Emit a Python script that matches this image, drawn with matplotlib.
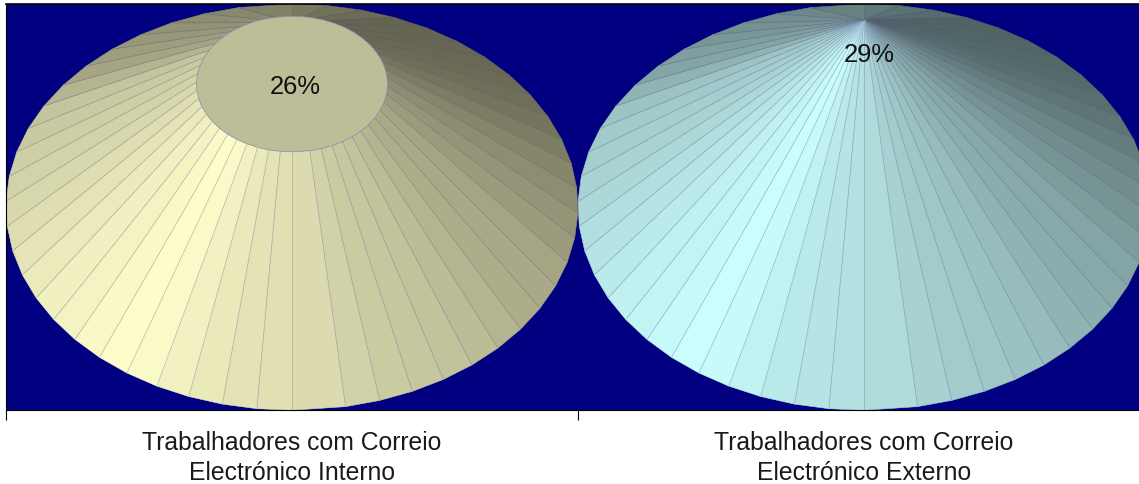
import numpy as np
import matplotlib
matplotlib.use("Agg")
import matplotlib.pyplot as plt
from matplotlib.collections import PolyCollection, LineCollection

plt.rcParams['font.family'] = ['Liberation Sans', 'DejaVu Sans']

categories = ["Trabalhadores com Correio\nElectrónico Interno",
              "Trabalhadores com Correio\nElectrónico Externo"]
values = [26, 29]
labels = ["26%", "29%"]

# shading of the facets, angle clockwise from the back of the cone
shade_angle = [0, 25, 50, 65, 80, 95, 110, 125, 140, 160, 175, 195, 216, 240, 270, 295, 310, 325, 340, 360]
shade_level = [0.49, 0.39, 0.41, 0.45, 0.52, 0.58, 0.65, 0.68, 0.75, 0.80, 0.86, 0.90, 1.00, 0.94, 0.84, 0.78, 0.65, 0.59, 0.55, 0.49]
base_colors = [(1.0, 1.0, 0.80), (0.80, 1.0, 1.0)]
ray_tint = np.array([0.32, 0.32, 0.58])

vmax = 29
base_v = 20.23
taper = 8.98
rx = 0.5
ry = 9.52

fig = plt.figure(figsize=(11.39, 4.84), dpi=100)
ax = fig.add_axes([6 / 1139, 74 / 484, 1133 / 1139, 406 / 484])
ax.set_facecolor("#000080")

# 25 facets a side, with a wider one next to the front and back seam
step = 7.05
half = np.arange(25) * step
theta = np.concatenate([half, 180 + half])
rad = np.radians(theta)
sx, cy = np.sin(rad), np.cos(rad)
nxt = np.roll(np.arange(len(theta)), -1)
mid = theta + (np.where(nxt == 0, 360, theta[nxt]) - theta) / 2

for i, v in enumerate(values):
    frac = (vmax - v) / taper
    bx, by = i + rx * sx, base_v + ry * cy
    # the sides run up to the apex at vmax
    tx, ty = i + rx * frac * sx, v + ry * frac * cy
    level = np.interp(mid, shade_angle, shade_level)
    colors = np.outer(level, base_colors[i])
    quads = [[(bx[k], by[k]), (bx[nxt[k]], by[nxt[k]]),
              (tx[nxt[k]], ty[nxt[k]]), (tx[k], ty[k])] for k in range(len(theta))]
    ax.add_collection(PolyCollection(quads, facecolors=colors, edgecolors=colors, linewidths=0.4))
    rays = [[(bx[k], by[k]), (tx[k], ty[k])] for k in range(len(theta))]
    ax.add_collection(LineCollection(rays, colors=0.65 * colors + 0.35 * ray_tint, linewidths=0.55))
    if frac > 0:
        ax.fill(tx, ty, facecolor=tuple(c * 0.74 for c in base_colors[i]),
                edgecolor="#8f93b5", linewidth=0.5)

ax.annotate(labels[0], (0, values[0]), xytext=(2, -2.2), textcoords="offset points",
            ha="center", va="center", fontsize=18.4, color="#111111")
ax.annotate(labels[1], (1, values[1]), xytext=(3.5, -25.2), textcoords="offset points",
            ha="center", va="center", fontsize=18.4, color="#111111")

ax.set_xticks([-0.5, 0.5, 1.5])
ax.set_xticklabels([])
ax.set_xticks([0, 1], minor=True)
ax.set_xticklabels(categories, minor=True, fontsize=17.8, linespacing=1.36, color="#1a1a1a")
ax.tick_params(axis="x", which="major", length=7.2, width=0.8)
ax.tick_params(axis="x", which="minor", length=0, pad=14.8)
ax.set_yticks([])
ax.set_xlim(-0.5, 1.4808)
ax.set_ylim(10.72, 29.75)
ax.spines["right"].set_visible(False)
ax.spines["left"].set_linewidth(0.8)
ax.spines["top"].set_linewidth(1.2)

fig.savefig("out.png", dpi=100)
